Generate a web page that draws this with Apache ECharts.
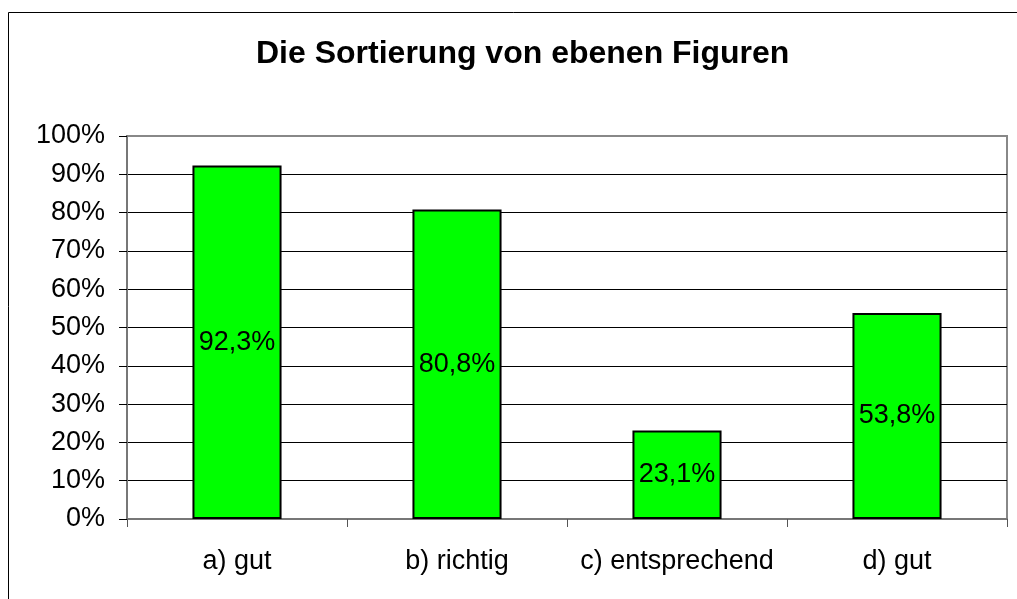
<!DOCTYPE html>
<html><head><meta charset="utf-8">
<script src="https://cdn.jsdelivr.net/npm/echarts@6/dist/echarts.min.js"></script>
<style>html,body{margin:0;padding:0;background:#fff}#c{width:1017px;height:599px}</style>
</head><body><div id="c"></div>
<script>
const title = 'Die Sortierung von ebenen Figuren';
const categories = ['a) gut', 'b) richtig', 'c) entsprechend', 'd) gut'];
const values = [92.3, 80.8, 23.1, 53.8];
const yTicks = [0, 10, 20, 30, 40, 50, 60, 70, 80, 90, 100];

const chart = echarts.init(document.getElementById('c'), null, {renderer: 'canvas'});
const F = 'Liberation Sans, Arial, sans-serif';
const gridColors = yTicks.map((v, i) => i === yTicks.length - 1 ? '#888' : '#000');
chart.setOption({
  animation: false,
  backgroundColor: '#fff',
  title: {text: title, left: 251, top: 33, textStyle: {fontFamily: F, fontSize: 32, fontWeight: 'bold', color: '#000'}},
  graphic: [{type: 'rect', shape: {x: 8.5, y: 12.5, width: 1030, height: 620}, style: {fill: 'none', stroke: '#000', lineWidth: 1}, silent: true, z: -1}],
  grid: {left: 127, right: 10, top: 136, bottom: 80, show: true, borderColor: '#888', borderWidth: 2, backgroundColor: 'transparent'},
  xAxis: {
    type: 'category', data: categories,
    axisLine: {lineStyle: {color: '#777', width: 2}},
    axisTick: {show: true, interval: 0, alignWithLabel: false, length: 8, lineStyle: {color: '#555', width: 1}},
    axisLabel: {interval: 0, fontFamily: F, fontSize: 27, color: '#000', margin: 29}
  },
  yAxis: {
    type: 'value', min: 0, max: 100, interval: 10,
    axisLine: {show: true, lineStyle: {color: '#777', width: 2}},
    axisTick: {show: true, length: 8, lineStyle: {color: '#000'}},
    axisLabel: {fontFamily: F, fontSize: 27, color: '#000', margin: 22, formatter: v => yTicks.includes(v) ? v + '%' : ''},
    splitLine: {show: true, lineStyle: {color: gridColors, width: 1}}
  },
  series: [{
    type: 'bar', data: values, barWidth: '40.5%',
    itemStyle: {color: '#00ff00', borderColor: '#000', borderWidth: 2},
    label: {show: true, position: 'inside', fontFamily: F, fontSize: 27, color: '#000',
      formatter: p => p.value.toFixed(1).replace('.', ',') + '%'}
  }]
});
</script></body></html>
